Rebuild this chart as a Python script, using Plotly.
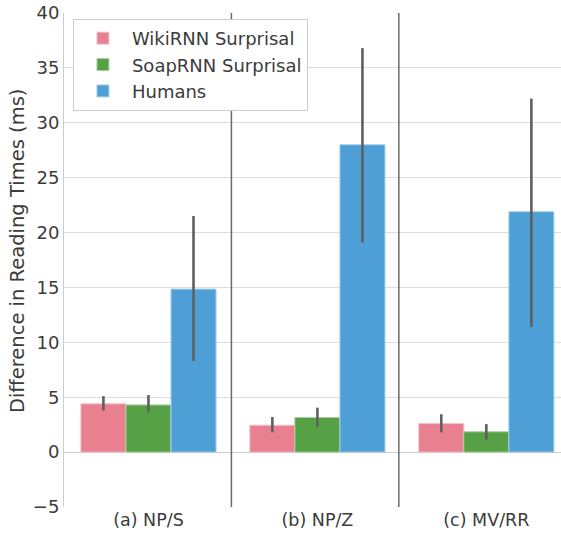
import plotly.graph_objects as go

categories = ["(a) NP/S", "(b) NP/Z", "(c) MV/RR"]
series_names = ["WikiRNN Surprisal", "SoapRNN Surprisal", "Humans"]
wiki_vals = [4.4, 2.45, 2.6]
wiki_lo = [3.8, 1.8, 1.8]
wiki_hi = [5.1, 3.2, 3.45]
soap_vals = [4.3, 3.15, 1.85]
soap_lo = [3.6, 2.3, 1.15]
soap_hi = [5.2, 4.05, 2.55]
human_vals = [14.85, 28.0, 21.9]
human_lo = [8.3, 19.1, 11.4]
human_hi = [21.5, 36.8, 32.2]
y_ticks = [-5, 0, 5, 10, 15, 20, 25, 30, 35, 40]
y_title = "Difference in Reading Times (ms)"

colors = ["#e8808f", "#56a146", "#4f9fd7"]
edge_colors = ["#f4c0c8", "#a9d0a2", "#a7cfeb"]

fig = go.Figure()
for name, vals, lo, hi, c, ec in zip(
    series_names,
    [wiki_vals, soap_vals, human_vals],
    [wiki_lo, soap_lo, human_lo],
    [wiki_hi, soap_hi, human_hi],
    colors, edge_colors,
):
    fig.add_trace(go.Bar(
        name=name,
        x=list(range(len(categories))),
        y=vals,
        marker=dict(color=c, line=dict(color=ec, width=1)),
        error_y=dict(
            type="data", symmetric=False,
            array=[h - v for h, v in zip(hi, vals)],
            arrayminus=[v - l for v, l in zip(vals, lo)],
            color="#5f5f5f", thickness=2.6, width=0,
        ),
    ))

for sx in [0.491, 1.482]:
    fig.add_shape(type="line", xref="x", yref="paper", x0=sx, x1=sx, y0=0, y1=1,
                  line=dict(color="#6a6a6a", width=1.5), layer="above")

fig.add_annotation(
    text=y_title, textangle=-90, xref="paper", yref="paper",
    x=-0.0946, y=0.52, xanchor="center", yanchor="middle", showarrow=False,
    font=dict(family="DejaVu Sans", size=19.5, color="#3b3b3b"),
)

fig.update_layout(
    width=561, height=533,
    margin=dict(l=64, r=0, t=13, b=26),
    paper_bgcolor="white", plot_bgcolor="white",
    barmode="group", bargap=0.2, bargroupgap=0,
    font=dict(family="DejaVu Sans", color="#3b3b3b", size=18),
    showlegend=True,
    legend=dict(
        x=0.018, y=0.988, xanchor="left", yanchor="top",
        bgcolor="white", bordercolor="#cccccc", borderwidth=1,
        font=dict(size=18, color="#3b3b3b"),
        itemwidth=48,
    ),
    xaxis=dict(
        range=[-0.5, 2.442], automargin=False,
        tickmode="array", tickvals=list(range(len(categories))), ticktext=categories,
        showgrid=False, zeroline=False, showline=False,
        tickfont=dict(size=17.5, color="#3b3b3b"), ticks="", ticklabelstandoff=0,
    ),
    yaxis=dict(
        range=[-5, 40], tickvals=y_ticks, automargin=False,
        showgrid=True, gridcolor="#dddddd", gridwidth=1,
        zeroline=True, zerolinecolor="#cccccc", zerolinewidth=1.2,
        showline=True, linecolor="#cccccc", linewidth=1,
        ticks="", tickfont=dict(size=18, color="#3b3b3b"),
    ),
)

fig.write_html("out.html", config={"displayModeBar": False},
               post_script="document.body.style.margin='0px';document.body.style.overflow='hidden';")
